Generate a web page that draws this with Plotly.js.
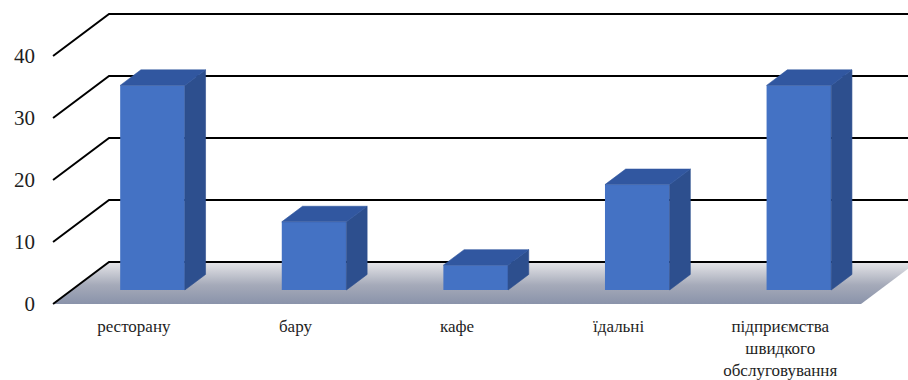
<!DOCTYPE html>
<html><head><meta charset="utf-8">
<script src="https://cdn.plot.ly/plotly-3.0.1.min.js"></script>
<style>html,body{margin:0;padding:0;background:#fff}</style>
</head><body><div id="chart" style="width:908px;height:380px"></div>
<script>
// ---- data ----
const categories = ['ресторану', 'бару', 'кафе', 'їдальні', 'підприємства<br>швидкого<br>обслуговування'];
const values = [33, 11, 4, 17, 33];
const yTickValues = [0, 10, 20, 30, 40];
const yTickLabels = ['0', '10', '20', '30', '40'];

// ---- geometry (pseudo-3D projection) ----
const W = 908, H = 380, M = {l: 52, r: 0, t: 0, b: 75};
const pxPerX = 161.6, pxPerY = 6.2, x0px = 152.5, y0px = 290;
const depthDX = 56 / pxPerX, depthDY = 42 / pxPerY;
const barFront = 1 / 3, barDepth = 0.37, halfW = 0.2;
const fX = barFront * depthDX, fY = barFront * depthDY;
const bX = (1 - barFront) * depthDX, bY = (1 - barFront) * depthDY;
const dX = barDepth * depthDX, dY = barDepth * depthDY;
const xRange = [(M.l - x0px) / pxPerX, (W - M.r - x0px) / pxPerX];
const yRange = [(y0px - (H - M.b)) / pxPerY, (y0px - M.t) / pxPerY];
const idx = categories.map((_, i) => i);
const left = -0.5, right = categories.length - 0.5;

// floor
const floor = {
  type: 'scatter', mode: 'lines', hoverinfo: 'skip',
  x: [left - fX, right - fX, right + bX, left + bX, left - fX],
  y: [-fY, -fY, bY, bY, -fY],
  fill: 'toself', line: {width: 0, color: 'rgba(0,0,0,0)'},
  fillgradient: {type: 'vertical', colorscale: [[0, '#8a93aa'], [0.45, '#a5aab9'], [1, '#e6e6e9']]}
};
// wall gridlines
const gx = [], gy = [];
yTickValues.forEach(v => {
  gx.push(left - fX, left + bX, xRange[1] + 1, null);
  gy.push(v - fY, v + bY, v + bY, null);
});
const grid = {type: 'scatter', mode: 'lines', hoverinfo: 'skip', x: gx, y: gy,
  line: {color: '#000', width: 2}};

// bar side and top faces
const sx = [], sy = [], tx = [], ty = [];
values.forEach((v, i) => {
  sx.push(i + halfW, i + halfW + dX, i + halfW + dX, i + halfW, i + halfW, null);
  sy.push(0, dY, v + dY, v, 0, null);
  tx.push(i - halfW, i + halfW, i + halfW + dX, i - halfW + dX, i - halfW, null);
  ty.push(v, v, v + dY, v + dY, v, null);
});
const sides = {type: 'scatter', mode: 'lines', hoverinfo: 'skip', xaxis: 'x2', yaxis: 'y2',
  x: sx, y: sy, fill: 'toself', fillcolor: '#2d4f8e', line: {width: 0.6, color: '#2d4f8e'}};
const tops = {type: 'scatter', mode: 'lines', hoverinfo: 'skip', xaxis: 'x2', yaxis: 'y2',
  x: tx, y: ty, fill: 'toself', fillcolor: '#3157a0', line: {width: 0.6, color: '#3157a0'}};
const fronts = {type: 'bar', hoverinfo: 'skip', xaxis: 'x2', yaxis: 'y2',
  x: idx, y: values, width: 2 * halfW, base: 0,
  marker: {color: '#4472c4', line: {width: 0}}};

const font = 'Liberation Serif';
const layout = {
  width: W, height: H, margin: M, showlegend: false,
  font: {family: font},
  paper_bgcolor: '#fff', plot_bgcolor: 'rgba(0,0,0,0)',
  xaxis: {range: xRange, showgrid: false, zeroline: false, showline: false, ticks: '',
    tickmode: 'array', tickvals: idx.map(i => i - fX), ticktext: categories,
    tickfont: {family: font, size: 17, color: '#1e1e1e'}, ticklabelstandoff: 9, fixedrange: true},
  yaxis: {range: yRange, showgrid: false, zeroline: false, showline: false, ticks: '',
    tickmode: 'array', tickvals: yTickValues.map(v => v - fY), ticktext: yTickLabels,
    tickfont: {family: font, size: 21, color: '#1e1e1e'}, ticklabelstandoff: 16, fixedrange: true},
  xaxis2: {overlaying: 'x', anchor: 'y2', range: xRange, visible: false, fixedrange: true},
  yaxis2: {overlaying: 'y', anchor: 'x2', range: yRange, visible: false, fixedrange: true}
};
Plotly.newPlot('chart', [floor, grid, sides, tops, fronts], layout, {displayModeBar: false, staticPlot: true});
</script></body></html>
